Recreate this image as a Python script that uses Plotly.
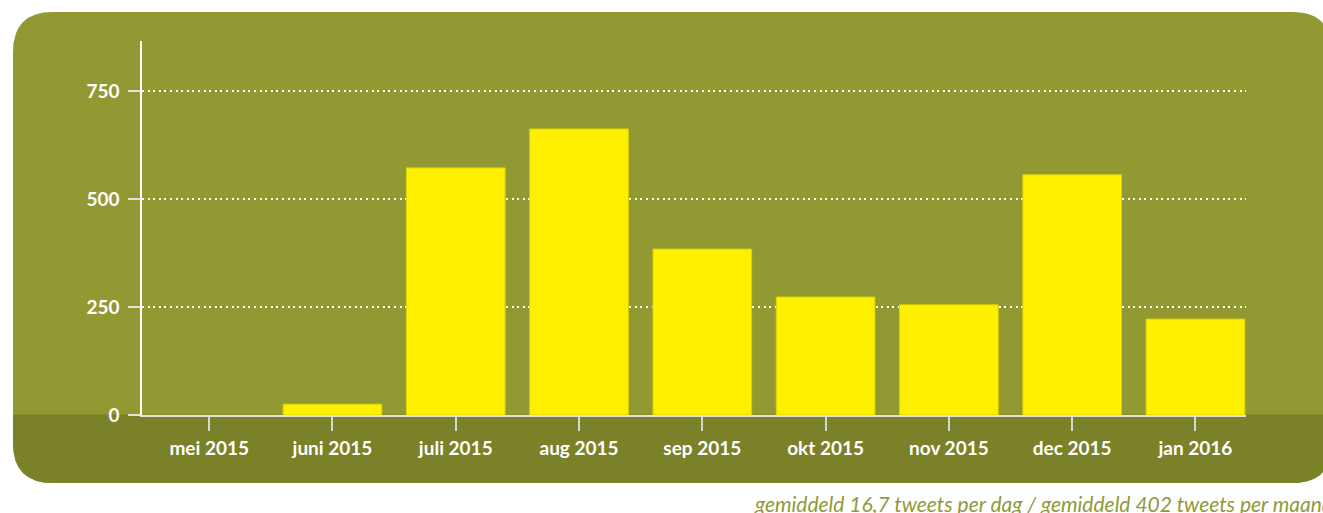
import plotly.graph_objects as go

months = ["mei 2015", "juni 2015", "juli 2015", "aug 2015", "sep 2015",
          "okt 2015", "nov 2015", "dec 2015", "jan 2016"]
tweets = [0, 25, 572, 662, 384, 273, 255, 556, 222]
y_ticks = [0, 250, 500, 750]
caption = "gemiddeld 16,7 tweets per dag / gemiddeld 402 tweets per maand"

W, H = 1323, 513
PLOT_L, PLOT_R, PLOT_T, PLOT_B = 142, 1246, 41, 415
ML, MT = PLOT_L, PLOT_T
MR = W - PLOT_R
MB = H - PLOT_B
PW = PLOT_R - PLOT_L
PH = PLOT_B - PLOT_T


def px(x):
    return (x - PLOT_L) / PW


def py(y):
    return (PLOT_B - y) / PH


def pt(x, y):
    return f"{px(x):.5f},{py(y):.5f}"


L, R, T, B, RAD = 13, 1332, 12, 483, 40
SPLIT = 414.5

panel = (f"M {pt(L, T + RAD)} Q {pt(L, T)} {pt(L + RAD, T)} "
         f"L {pt(R - RAD, T)} Q {pt(R, T)} {pt(R, T + RAD)} "
         f"L {pt(R, B - RAD)} Q {pt(R, B)} {pt(R - RAD, B)} "
         f"L {pt(L + RAD, B)} Q {pt(L, B)} {pt(L, B - RAD)} Z")
band = (f"M {pt(L, SPLIT)} L {pt(R, SPLIT)} "
        f"L {pt(R, B - RAD)} Q {pt(R, B)} {pt(R - RAD, B)} "
        f"L {pt(L + RAD, B)} Q {pt(L, B)} {pt(L, B - RAD)} Z")

fig = go.Figure(go.Bar(
    x=months, y=tweets, width=0.8,
    marker=dict(color="#FFF000",
                line=dict(color="#DDD400",
                          width=[0 if v == 0 else 1 for v in tweets])),
    hoverinfo="x+y",
))

fig.update_layout(
    width=W, height=H,
    margin=dict(l=ML, r=MR, t=MT, b=MB),
    paper_bgcolor="white",
    plot_bgcolor="rgba(0,0,0,0)",
    showlegend=False,
    font=dict(family="Lato", color="white"),
    shapes=[
        dict(type="path", path=panel, xref="paper", yref="paper",
             fillcolor="#939932", line=dict(width=0), layer="below"),
        dict(type="path", path=band, xref="paper", yref="paper",
             fillcolor="#7B8128", line=dict(width=0), layer="below"),
    ],
    annotations=[dict(
        text=caption, xref="paper", yref="paper",
        x=px(752), y=py(503), xanchor="left", yanchor="middle",
        showarrow=False,
        font=dict(family="Lato", size=21, color="#8F9A3C", style="italic"),
    )],
)

fig.update_xaxes(
    type="category", range=[-0.545, 8.41],
    showgrid=False, showline=True, linecolor="#E4E4D4", linewidth=1.5,
    ticks="outside", ticklen=14, tickcolor="#D8D8C8", tickwidth=1.5,
    tickfont=dict(family="Lato", size=19, color="white", weight="bold"),
    ticklabelstandoff=1,
    zeroline=False, fixedrange=True,
)

fig.update_yaxes(
    range=[0, PH / 0.432],
    tickvals=y_ticks, ticktext=[str(v) for v in y_ticks],
    showgrid=True, gridcolor="white", gridwidth=2, griddash="2px,3.6px",
    showline=True, linecolor="white", linewidth=1.5,
    ticks="outside", ticklen=12, tickcolor="#E4E4D4", tickwidth=1.5,
    tickfont=dict(family="Lato", size=19, color="white", weight="bold"),
    ticklabelstandoff=5,
    zeroline=False, fixedrange=True,
)

fig.write_html("out.html",
               config={"displayModeBar": False},
               post_script="document.body.style.margin='0';"
                           "document.body.style.overflow='hidden';")
